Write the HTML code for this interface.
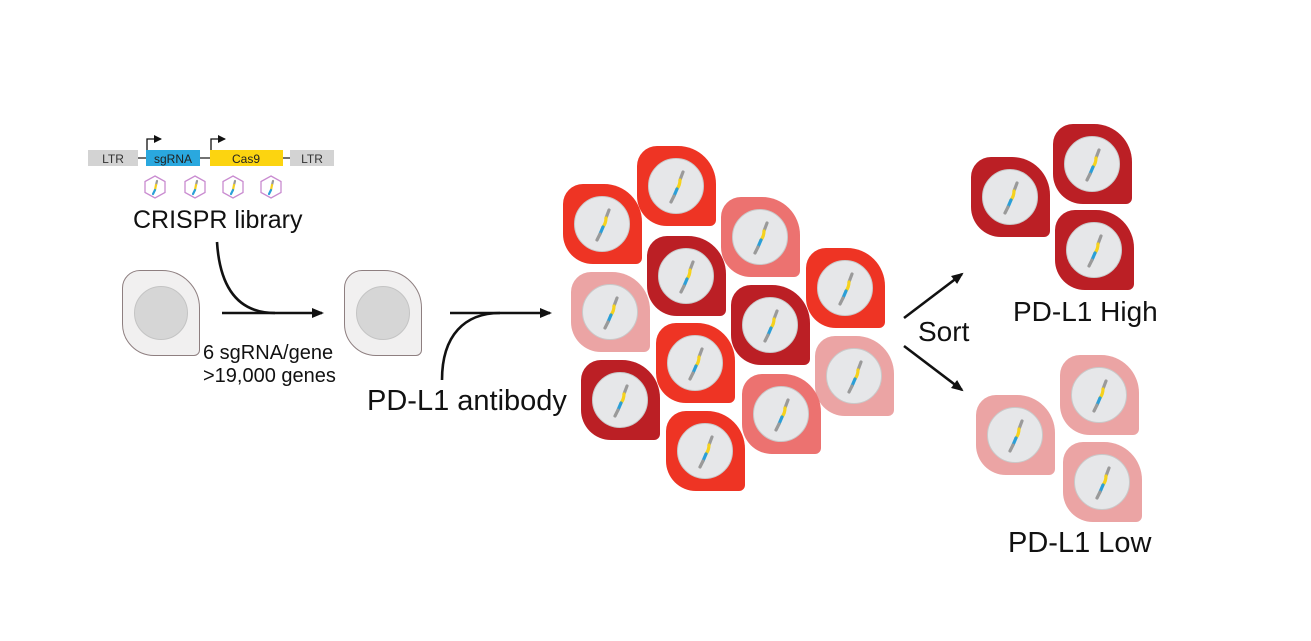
<!DOCTYPE html>
<html><head><meta charset="utf-8"><style>
body{margin:0;background:#fff;width:1311px;height:641px;position:relative;overflow:hidden;font-family:"Liberation Sans",sans-serif}
.c{position:absolute;width:79px;height:80px;border-radius:20px 38px 6px 30px}
.c .n{position:absolute;left:11px;top:12px;width:54px;height:54px;border-radius:50%;background:#e6e7e9;border:1.5px solid #c9c9c9}
.c svg{position:absolute;left:0;top:0}
.R{background:#ee3424}.D{background:#bb1f25}.P{background:#eba4a4}.K{background:#ec7270}
.t{position:absolute;color:#111;white-space:nowrap}
.g{position:absolute;width:76px;height:84px;border-radius:18px 38px 6px 32px;background:#f1f0f0;border:1.5px solid #8e7f80}
.g .n{position:absolute;left:11px;top:15px;width:52px;height:52px;border-radius:50%;background:#d6d6d6;border:1px solid #c4c4c4}
</style></head><body>
<svg width="1311" height="641" style="position:absolute;left:0;top:0">
<defs>
<marker id="a" markerWidth="8" markerHeight="8" refX="7" refY="4" orient="auto" markerUnits="userSpaceOnUse"><path d="M0,0 L8,4 L0,8z" fill="#111"/></marker>
<marker id="b" markerWidth="12" markerHeight="10" refX="10" refY="5" orient="auto" markerUnits="userSpaceOnUse"><path d="M0,0 L12,5 L0,10z" fill="#111"/></marker>
</defs>
<line x1="138" y1="158" x2="290" y2="158" stroke="#444" stroke-width="1.5"/>
<rect x="88" y="150" width="50" height="16" fill="#d3d3d3"/>
<text x="113" y="163" font-size="12" text-anchor="middle" fill="#333" font-family="Liberation Sans">LTR</text>
<rect x="146" y="150" width="54" height="16" fill="#2aa8df"/>
<text x="173" y="163" font-size="12" text-anchor="middle" fill="#222" font-family="Liberation Sans">sgRNA</text>
<rect x="210" y="150" width="73" height="16" fill="#fcd410"/>
<text x="246" y="163" font-size="12" text-anchor="middle" fill="#222" font-family="Liberation Sans">Cas9</text>
<rect x="290" y="150" width="44" height="16" fill="#d3d3d3"/>
<text x="312" y="163" font-size="12" text-anchor="middle" fill="#333" font-family="Liberation Sans">LTR</text>
<path d="M147,150 V139 H161" fill="none" stroke="#111" stroke-width="1.3" marker-end="url(#a)"/>
<path d="M211,150 V139 H225" fill="none" stroke="#111" stroke-width="1.3" marker-end="url(#a)"/>
<g fill="none" stroke="#c98bd0" stroke-width="1.3">
<path d="M155,176 l10,5.5 v11 l-10,5.5 l-10,-5.5 v-11z"/>
<path d="M195,176 l10,5.5 v11 l-10,5.5 l-10,-5.5 v-11z"/>
<path d="M233,176 l10,5.5 v11 l-10,5.5 l-10,-5.5 v-11z"/>
<path d="M271,176 l10,5.5 v11 l-10,5.5 l-10,-5.5 v-11z"/>
</g>
<g stroke-width="2.2" fill="none" stroke-linecap="round">
<path d="M157,181 l-1,4" stroke="#999"/><path d="M156,185 l-1,5" stroke="#f5d020"/><path d="M155,190 l-2,4" stroke="#2aa0d8"/>
<path d="M197,181 l-1,4" stroke="#999"/><path d="M196,185 l-1,5" stroke="#f5d020"/><path d="M195,190 l-2,4" stroke="#2aa0d8"/>
<path d="M235,181 l-1,4" stroke="#999"/><path d="M234,185 l-1,5" stroke="#f5d020"/><path d="M233,190 l-2,4" stroke="#2aa0d8"/>
<path d="M273,181 l-1,4" stroke="#999"/><path d="M272,185 l-1,5" stroke="#f5d020"/><path d="M271,190 l-2,4" stroke="#2aa0d8"/>
</g>
<g stroke="#111" stroke-width="2.6" fill="none">
<line x1="222" y1="313" x2="322" y2="313" marker-end="url(#b)"/>
<path d="M217,242 C220,290 240,313 275,313"/>
<line x1="450" y1="313" x2="550" y2="313" marker-end="url(#b)"/>
<path d="M442,380 C442,335 465,313 500,313"/>
<line x1="904" y1="318" x2="962" y2="274" marker-end="url(#b)"/>
<line x1="904" y1="346" x2="962" y2="390" marker-end="url(#b)"/>
</g>
</svg>
<div class="g" style="left:122px;top:270px"><div class="n"></div></div>
<div class="g" style="left:344px;top:270px"><div class="n"></div></div>
<div class="t" style="left:133px;top:206px;font-size:25px">CRISPR library</div>
<div class="t" style="left:203px;top:342px;font-size:20px;line-height:23px">6 sgRNA/gene<br>&gt;19,000 genes</div>
<div class="t" style="left:367px;top:385px;font-size:29px">PD-L1 antibody</div>
<div class="t" style="left:918px;top:316px;font-size:28px">Sort</div>
<div class="t" style="left:1013px;top:296px;font-size:28px">PD-L1 High</div>
<div class="t" style="left:1008px;top:527px;font-size:29px">PD-L1 Low</div>

<div id="cells"></div>
<script>
var L=[["R",563,184],["R",637,146],["K",721,197],["D",647,236],["P",571,272],["R",806,248],["D",731,285],["R",656,323],["P",815,336],["D",581,360],["K",742,374],["R",666,411],
["D",971,157],["D",1053,124],["D",1055,210],["P",976,395],["P",1060,355],["P",1063,442]];
var h="";
L.forEach(function(c){h+='<div class="c '+c[0]+'" style="left:'+c[1]+'px;top:'+c[2]+'px"><div class="n"></div><svg width="79" height="80"><g stroke-width="3.2" fill="none" stroke-linecap="round"><path d="M46,26 l-3,8" stroke="#9a9a9a"/><path d="M43,34 q0,5 -3,9" stroke="#f6d21c"/><path d="M40,43 l-3,7" stroke="#2a9fd8"/><path d="M37,50 l-3,6" stroke="#9a9a9a"/></g></svg></div>';});
document.getElementById("cells").innerHTML=h;
</script>
</body></html>
